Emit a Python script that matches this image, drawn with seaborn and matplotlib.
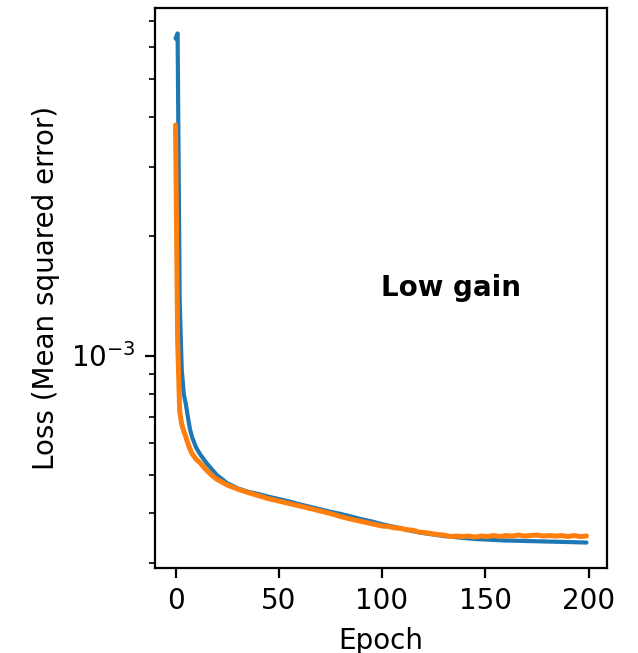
import matplotlib
matplotlib.use("Agg")
import matplotlib.pyplot as plt
import matplotlib.ticker as mticker
import seaborn as sns

# Training curves (MSE loss per epoch)
train_epochs = [0, 1, 2, 3, 4, 5, 6, 7, 8, 10, 12, 15, 18, 20, 25, 30, 35, 40, 45,
                50, 55, 60, 65, 70, 75, 80, 85, 90, 95, 100, 105, 110, 115, 120,
                125, 130, 135, 140, 145, 150, 160, 170, 180, 190, 199]
train_loss = [6.32e-3, 6.51e-3, 1.38e-3, 0.922e-3, 0.798e-3, 0.753e-3, 0.698e-3,
              0.651e-3, 0.622e-3, 0.585e-3, 0.562e-3, 0.535e-3, 0.513e-3, 0.499e-3,
              0.476e-3, 0.462e-3, 0.453e-3, 0.447e-3, 0.440e-3, 0.434e-3, 0.428e-3,
              0.421e-3, 0.415e-3, 0.409e-3, 0.403e-3, 0.398e-3, 0.392e-3, 0.386e-3,
              0.381e-3, 0.375e-3, 0.370e-3, 0.365e-3, 0.360e-3, 0.356e-3, 0.353e-3,
              0.350e-3, 0.348e-3, 0.346e-3, 0.344e-3, 0.343e-3, 0.341e-3, 0.340e-3,
              0.339e-3, 0.338e-3, 0.337e-3]

val_epochs = [0, 1, 2, 3, 4, 5, 6, 7, 8, 10, 12, 15, 18, 20, 25, 30, 35, 40, 45,
              50, 55, 60, 65, 70, 75, 80, 85, 90, 95, 100, 103, 106, 109, 112, 115,
              118, 121, 124, 127, 130, 133, 136, 139, 142, 145, 148, 151, 154, 157,
              160, 163, 166, 169, 172, 175, 178, 181, 184, 187, 190, 193, 196, 199]
val_loss = [3.82e-3, 1.10e-3, 0.723e-3, 0.670e-3, 0.644e-3, 0.622e-3, 0.600e-3,
            0.580e-3, 0.565e-3, 0.547e-3, 0.535e-3, 0.513e-3, 0.496e-3, 0.487e-3,
            0.471e-3, 0.460e-3, 0.451e-3, 0.443e-3, 0.435e-3, 0.429e-3, 0.423e-3,
            0.417e-3, 0.411e-3, 0.405e-3, 0.399e-3, 0.392e-3, 0.386e-3, 0.381e-3,
            0.376e-3, 0.371e-3, 0.370e-3, 0.367e-3, 0.366e-3, 0.363e-3, 0.362e-3,
            0.358e-3, 0.357e-3, 0.355e-3, 0.353e-3, 0.352e-3, 0.349e-3, 0.350e-3,
            0.349e-3, 0.350e-3, 0.348e-3, 0.350e-3, 0.349e-3, 0.351e-3, 0.349e-3,
            0.351e-3, 0.350e-3, 0.352e-3, 0.350e-3, 0.351e-3, 0.352e-3, 0.350e-3,
            0.351e-3, 0.350e-3, 0.351e-3, 0.349e-3, 0.351e-3, 0.349e-3, 0.350e-3]

x_ticks = [0, 50, 100, 150, 200]
panel_title = "Low gain"

sns.set_style("ticks", rc={
    "axes.edgecolor": "black",
    "xtick.color": "black",
    "ytick.color": "black",
    "axes.labelcolor": "black",
    "text.color": "black",
})
plt.rcParams["font.family"] = ["DejaVu Sans"]
plt.rcParams["font.size"] = 10
plt.rcParams["axes.linewidth"] = 0.8

DPI = 200
fig = plt.figure(figsize=(638 / DPI, 653 / DPI), dpi=DPI)
ax = fig.add_axes([155 / 638, 1 - 568 / 653, 452 / 638, 560 / 653])

sns.lineplot(x=train_epochs, y=train_loss, ax=ax, color="#1f77b4", linewidth=1.5)
sns.lineplot(x=val_epochs, y=val_loss, ax=ax, color="#ff7f0e", linewidth=1.8)

ax.set_yscale("log")
ax.yaxis.set_minor_formatter(mticker.NullFormatter())
ax.set_xticks(x_ticks)
ax.tick_params(axis="both", labelsize=10)
ax.set_xlabel("Epoch", fontsize=10)
ax.set_ylabel("Loss (Mean squared error)", fontsize=10)
ax.text(0.5, 0.5, panel_title, transform=ax.transAxes, fontweight="bold",
        fontsize=10, ha="left", va="center")

fig.savefig("out.png", dpi=DPI)
